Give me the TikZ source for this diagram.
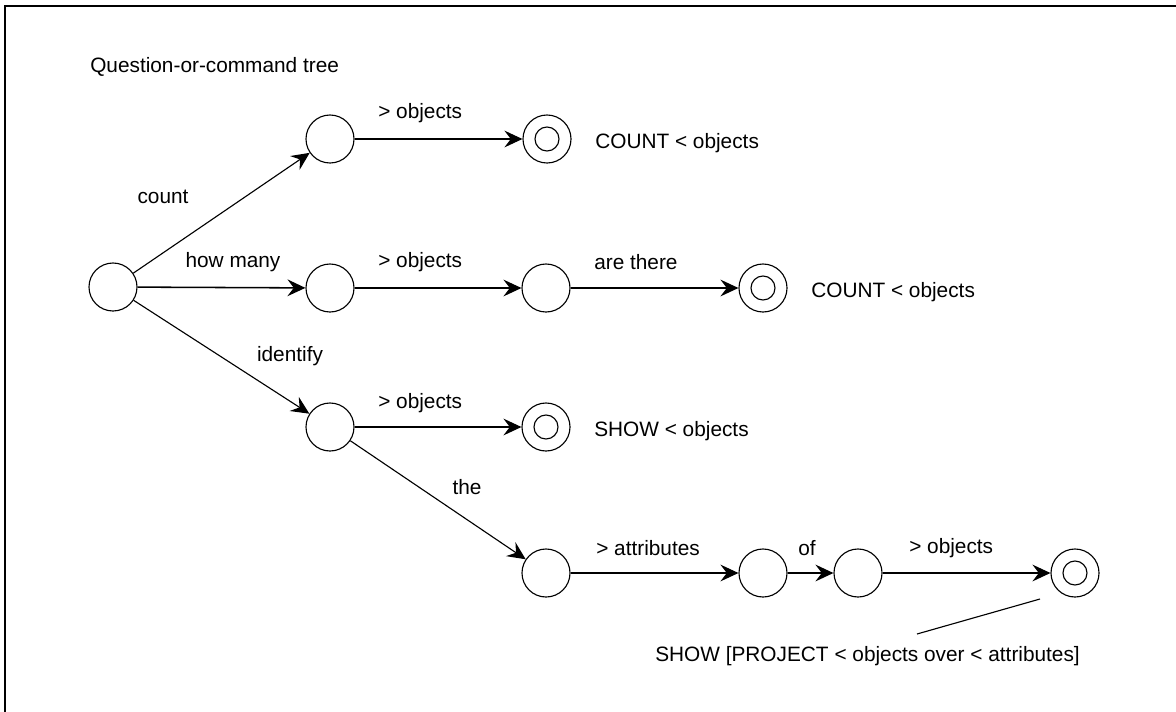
\documentclass[tikz,border=0pt]{standalone}
\usepackage{fontspec}
\setmainfont{Liberation Sans}
\usetikzlibrary{arrows.meta}
\tikzset{
	state/.style={circle, draw, line width=0.8pt, minimum size=1.2cm, inner sep=0pt},
	final/.style={state, path picture={\draw[line width=0.8pt] (path picture bounding box.center) circle (0.3cm);}},
	trans/.style={line width=0.8pt, -{Stealth[length=4.5mm, width=4.2mm, inset=1.6mm]}},
	lbl/.style={inner sep=0pt, font=\fontsize{14.8}{17}\selectfont},
}
\begin{document}
\begin{tikzpicture}[x=0.025cm, y=-0.025cm]
				\useasboundingbox (0,0) rectangle (1176,711);
				% frame
				\draw[line width=1.4pt] (5,730) -- (5,6) -- (1190,6);
				\node[lbl, anchor=west] (title) at (90,67) {Question-or-command tree};
				% states
				\node[state] (r) at (113,287) {};
				\node[state] (a1) at (330,139) {};
				\node[final] (f1) at (547,139) {};
				\node[state] (b1) at (330,288) {};
				\node[state] (b2) at (546,288) {};
				\node[final] (f2) at (763,288) {};
				\node[state] (c1) at (330,427) {};
				\node[final] (f3) at (546,427) {};
				\node[state] (d1) at (546,573) {};
				\node[state] (d2) at (763,573) {};
				\node[state] (d3) at (858,573) {};
				\node[final] (f4) at (1075,573) {};
				% transitions
				\draw[trans] (r) -- (a1);
				\draw[trans, line width=1.1pt] (r) -- (b1);
				\draw[trans] (r) -- (c1);
				\draw[trans] (a1) -- (f1);
				\draw[trans] (b1) -- (b2);
				\draw[trans, line width=1.1pt] (b2) -- (f2);
				\draw[trans] (c1) -- (f3);
				\draw[trans] (c1) -- (d1);
				\draw[trans] (d1) -- (d2);
				\draw[trans, line width=1.1pt] (d2) -- (d3);
				\draw[trans] (d3) -- (f4);
				% transition labels
				\node[lbl] (lcount) at (163,197) {count};
				\node[lbl] (lhow) at (233,262) {how many};
				\node[lbl] (lident) at (290,356) {identify};
				\node[lbl, anchor=west] (la1) at (378,113) {> objects};
				\node[lbl, anchor=west] (lb1) at (378,262) {> objects};
				\node[lbl, anchor=west] (lb2) at (594,262) {are there};
				\node[lbl, anchor=west] (lc1) at (378,403) {> objects};
				\node[lbl] (lthe) at (467,487) {the};
				\node[lbl, anchor=west] (ld1) at (596,548) {> attributes};
				\node[lbl] (ld2) at (807,548) {of};
				\node[lbl, anchor=west] (ld3) at (909,548) {> objects};
				% outputs
				\node[lbl, anchor=west] (of1) at (595,143) {COUNT < objects};
				\node[lbl, anchor=west] (of2) at (811,292) {COUNT < objects};
				\node[lbl, anchor=west] (of3) at (594,431) {SHOW < objects};
				\node[lbl, anchor=west] (of4) at (655,656) {SHOW [PROJECT < objects over < attributes]};
				\coordinate (leadtop) at (1040,599);
				\coordinate (leadbot) at (917,634);
				\draw[line width=0.8pt] (leadtop) -- (leadbot);
\end{tikzpicture}
\end{document}
